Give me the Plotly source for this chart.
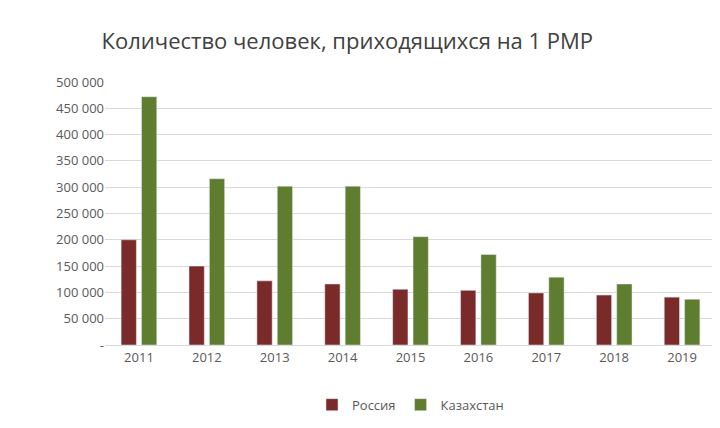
import plotly.graph_objects as go

years = ["2011","2012","2013","2014","2015","2016","2017","2018","2019"]
russia = [200000,150000,122000,116000,106000,104000,99000,95000,91000]
kazakhstan = [472000,316000,302000,302000,206000,172000,129000,116000,87000]
tickvals = [0,50000,100000,150000,200000,250000,300000,350000,400000,450000,500000]
ticktext = ["-","50 000","100 000","150 000","200 000","250 000","300 000","350 000","400 000","450 000","500 000"]

fig = go.Figure()
fig.add_bar(x=years, y=russia, name="Россия", marker_color="#7B2A2A")
fig.add_bar(x=years, y=kazakhstan, name="Казахстан", marker_color="#5E7D2E")
fig.update_layout(
    width=720, height=428, barmode="group", bargap=0.4, bargroupgap=0.25,
    paper_bgcolor="white", plot_bgcolor="white",
    font=dict(family="Open Sans, Liberation Sans, sans-serif", size=12, color="#595959"),
    title=dict(text="Количество человек, приходящихся на 1 РМР", x=0.13, xanchor="left", y=0.94,
               font=dict(size=22, color="#404040")),
    margin=dict(l=97, r=12, t=74, b=91),
    legend=dict(orientation="h", x=0.5, xanchor="center", y=-0.17, yanchor="top", font=dict(size=13)),
    xaxis=dict(showline=True, linecolor="#D9D9D9", ticks="", tickfont=dict(size=13)),
    yaxis=dict(range=[0,500000], tickvals=tickvals, ticktext=ticktext, gridcolor="#D9D9D9",
               zeroline=False, tickfont=dict(size=13)),
)
fig.write_html("out.html")
